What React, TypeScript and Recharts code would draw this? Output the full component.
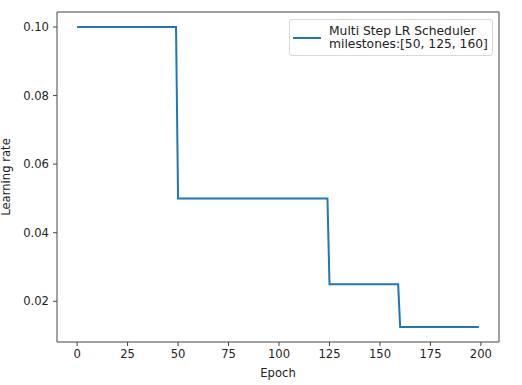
import { LineChart, Line, XAxis, YAxis, ReferenceLine } from 'recharts';

// corner points of the step schedule
const epochs = [0, 49, 50, 124, 125, 159, 160, 199];
const learningRates = [0.1, 0.1, 0.05, 0.05, 0.025, 0.025, 0.0125, 0.0125];

const xTicks = [0, 25, 50, 75, 100, 125, 150, 175, 200];
const yTicks = [0.02, 0.04, 0.06, 0.08, 0.1];

const seriesName = 'Multi Step LR Scheduler';
const milestones = [50, 125, 160];

const X_DOMAIN = [-9.95, 208.95];
const Y_DOMAIN = [0.008125, 0.104375];

const data = epochs.map((e, i) => ({ epoch: e, lr: learningRates[i] }));

const FONT = '"DejaVu Sans", sans-serif';
const SPINE = '#444';
const TEXT = '#222';
const BLUE = '#1f77b4';

const tickStyle = { fontSize: 11.6, fill: TEXT, fontFamily: FONT };

function LegendBox() {
  return (
    <div
      style={{
        position: 'absolute',
        left: 289,
        top: 19,
        width: 204,
        height: 37,
        boxSizing: 'border-box',
        border: '1px solid #d8d8d8',
        borderRadius: 3,
        background: 'rgba(255,255,255,0.8)',
        padding: '1px 4px 0 3px',
        display: 'flex',
        alignItems: 'center',
        fontFamily: FONT,
        fontSize: 12.3,
        color: TEXT,
        lineHeight: '13.5px',
        whiteSpace: 'nowrap',
      }}
    >
      <div style={{ width: 28, height: 2, background: BLUE, marginRight: 8 }} />
      <div>
        <div>{seriesName}</div>
        <div>milestones:[{milestones.join(', ')}]</div>
      </div>
    </div>
  );
}

export default function App() {
  return (
    <div style={{ position: 'absolute', left: 0, top: 0, width: 522, height: 385, background: '#fff' }}>
      <LineChart
        width={522}
        height={385}
        data={data}
        margin={{ top: 12, right: 23, bottom: 0, left: 0 }}
      >
        <XAxis
          dataKey="epoch"
          type="number"
          domain={X_DOMAIN}
          ticks={xTicks}
          allowDataOverflow
          tick={tickStyle}
          tickSize={4}
          tickMargin={4}
          height={43}
          stroke={SPINE}
          tickLine={{ stroke: SPINE }}
          label={{ value: 'Epoch', position: 'insideBottom', offset: 8, style: { ...tickStyle, textAnchor: 'middle' } }}
        />
        <YAxis
          type="number"
          domain={Y_DOMAIN}
          ticks={yTicks}
          allowDataOverflow
          tickFormatter={(v: number) => v.toFixed(2)}
          tick={tickStyle}
          tickSize={4}
          tickMargin={4}
          width={57}
          stroke={SPINE}
          tickLine={{ stroke: SPINE }}
          label={{
            value: 'Learning rate',
            angle: -90,
            position: 'insideLeft',
            offset: 6,
            style: { ...tickStyle, textAnchor: 'middle' },
          }}
        />
        {/* top and right spines of the matplotlib frame */}
        <ReferenceLine y={Y_DOMAIN[1]} stroke={SPINE} strokeWidth={1} ifOverflow="visible" />
        <ReferenceLine x={X_DOMAIN[1]} stroke={SPINE} strokeWidth={1} ifOverflow="visible" />
        <Line
          type="linear"
          dataKey="lr"
          stroke={BLUE}
          strokeWidth={2}
          dot={false}
          isAnimationActive={false}
        />
      </LineChart>
      <LegendBox />
    </div>
  );
}
